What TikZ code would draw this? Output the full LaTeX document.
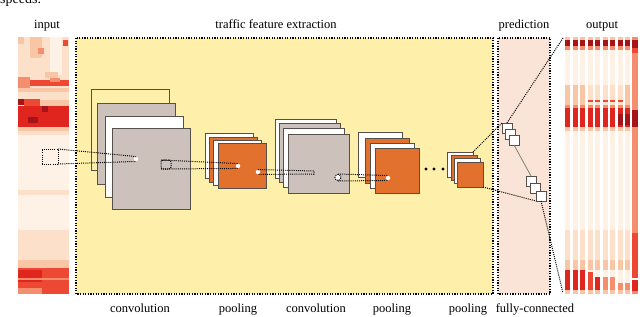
\documentclass[tikz,border=0pt]{standalone}
\usepackage{fontspec}
\setmainfont{Liberation Serif}
\usepackage{tikz}
\definecolor{featbg}{RGB}{254, 239, 170}
\definecolor{predbg}{RGB}{250, 228, 215}
\definecolor{mapgray}{RGB}{205, 193, 187}
\definecolor{maporange}{RGB}{226, 113, 45}
\definecolor{mapline}{RGB}{85, 80, 75}
\definecolor{hma}{RGB}{254, 242, 230}
\definecolor{hmb}{RGB}{252, 224, 202}
\definecolor{hmc}{RGB}{249, 198, 165}
\definecolor{hmd}{RGB}{244, 142, 110}
\definecolor{hme}{RGB}{236, 72, 52}
\definecolor{hmf}{RGB}{224, 36, 30}
\definecolor{hmg}{RGB}{165, 20, 25}

\begin{document}
\begin{tikzpicture}[x=1pt, y=-1pt,
    fmap/.style={draw=mapline, line width=0.8pt, anchor=north west, inner sep=0pt, outer sep=0pt},
    fcbox/.style={fmap, fill=white, minimum size=10pt},
    dotline/.style={line width=1pt, dash pattern=on 1pt off 1.1pt},
    boxline/.style={line width=1.2pt, dash pattern=on 1.2pt off 1.4pt},
    hotdot/.style={circle, fill=white, inner sep=0pt, minimum size=4.5pt},
    lbl/.style={font=\fontsize{12.5}{14}\selectfont, anchor=base, inner sep=0pt}]
    \useasboundingbox (0,0) rectangle (640,316);
    \clip (0,0) rectangle (640,316);
    \node[anchor=base west, inner sep=0pt, font=\fontsize{14}{16}\selectfont] (spd) at (0,3) {speeds.};
    % section labels
    \node[lbl] (inlbl) at (47,28) {input};
    \node[lbl] (featlbl) at (276,28) {traffic feature extraction};
    \node[lbl] (predlbl) at (524,28) {prediction};
    \node[lbl] (outlbl) at (602,28) {output};
    \node[lbl] (convlbla) at (140,312) {convolution};
    \node[lbl] (poollbla) at (238,312) {pooling};
    \node[lbl] (convlblb) at (316,312) {convolution};
    \node[lbl] (poollblb) at (392,312) {pooling};
    \node[lbl] (poollblc) at (468,312) {pooling};
    \node[lbl] (fclbl) at (535,312) {fully-connected};
    % backgrounds
    \draw[boxline, fill=featbg] (76,38) rectangle (493,294);
    \draw[boxline, fill=predbg] (498,38) rectangle (550,294);
    % input speeds
    \foreach \c/\xa/\ya/\xb/\yb in {hmb/18/37/69/294, hma/50/37/62/75, hmc/30/37/42/58, hmc/18/37/24/44,
        hmd/38/48/44/54, hme/63/40/68/46, hmc/45/72/58/78, hmd/18/77/30/88, hme/30/80/69/86, hmd/50/78/60/82,
        hmc/18/88/69/92, hmg/18/99/24/105, hme/24/99/40/106, hmc/40/100/69/106, hmf/18/106/69/127,
        hmg/42/106/48/112, hmg/28/117/38/123, hmc/18/127/69/131, hma/18/135/69/230, hmb/18/190/69/195,
        hmc/18/260/69/268, hme/18/268/69/288, hmf/18/270/42/282, hmd/18/278/69/279.5, hmd/18/288/42/294,
        hme/42/288/69/294}
        \fill[\c] (\xa,\ya) rectangle (\xb,\yb);
    % output speeds
    \foreach \i in {0,...,8} {
        \pgfmathsetmacro\xa{565+7.5*\i}
        \pgfmathsetmacro\xb{\xa+5}
        \fill[hma] (\xa,37) rectangle (\xb,294);
        \fill[hmc] (\xa,37) rectangle (\xb,40);
        \fill[hmg] (\xa,40) rectangle (\xb,46);
        \fill[hmd] (\xa,46) rectangle (\xb,50);
        \fill[hmb] (\xa,85) rectangle (\xb,106);
        \fill[hmd] (\xa,105) rectangle (\xb,108);
        \fill[hmf] (\xa,108) rectangle (\xb,127);
        \fill[hmc] (\xa,127) rectangle (\xb,131);
        \fill[hmb] (\xa,230) rectangle (\xb,260);
        \fill[hmc] (\xa,260) rectangle (\xb,270);
        \fill[hmc] (\xa,290) rectangle (\xb,294);
    }
    \foreach \i in {0,1,2,8} {
        \pgfmathsetmacro\xa{565+7.5*\i}
        \fill[hmc] (\xa,85) rectangle (\xa+5,105);
    }
    \foreach \i in {3,...,7} {
        \pgfmathsetmacro\xa{565+7.5*\i}
        \fill[hme] (\xa,99.5) rectangle (\xa+5,101.5);
    }
    \foreach \i in {7,8} {
        \pgfmathsetmacro\xa{565+7.5*\i}
        \fill[hmg] (\xa,114) rectangle (\xa+5,125);
    }
    \foreach \i/\yc/\c in {0/270/hmf, 1/270/hmf, 2/270/hmf, 3/272/hme, 4/277/hmf, 5/277/hmd, 6/277/hmd, 7/283/hmd, 8/283/hmd} {
        \pgfmathsetmacro\xa{565+7.5*\i}
        \fill[\c] (\xa,\yc) rectangle (\xa+5,290);
    }
    \fill[hmd] (632,37) rectangle (638,294);
    \fill[hmg] (632,40) rectangle (638,48);
    \fill[hme] (632,48) rectangle (638,53);
    \fill[hmg] (632,110) rectangle (638,127);
    \fill[hme] (632,233) rectangle (638,278);
    \fill[white] (632,278) rectangle (638,280);
    \fill[hmf] (632,280) rectangle (638,291);
    % feature maps
    \foreach \n/\x/\y/\c in {c1a/91/89/featbg, c1b/97/103/mapgray, c1c/105/116/white, c1d/112/128/mapgray}
        \node[fmap, fill=\c, minimum width=78pt, minimum height=81pt] (\n) at (\x,\y) {};
    \foreach \n/\x/\y/\c in {p1a/205/133/white, p1b/209/137/maporange, p1c/213/140/white, p1d/218/143/maporange}
        \node[fmap, fill=\c, minimum width=48pt, minimum height=45pt] (\n) at (\x,\y) {};
    \foreach \n/\x/\y/\c in {c2a/275/119/white, c2b/279/123/mapgray, c2c/283/128/white, c2d/288/134/mapgray}
        \node[fmap, fill=\c, minimum width=61pt, minimum height=59pt] (\n) at (\x,\y) {};
    \foreach \n/\x/\y/\c in {p2a/358/132/white, p2b/365/138/maporange, p2c/370/143/white, p2d/375/148/maporange}
        \node[fmap, fill=\c, minimum width=44pt, minimum height=45pt] (\n) at (\x,\y) {};
    \foreach \n/\x/\y/\c in {p3a/447/152/white, p3b/451/155/maporange, p3c/454/158/white, p3d/457/162/maporange}
        \node[fmap, fill=\c, minimum width=26pt, minimum height=25pt] (\n) at (\x,\y) {};
    \foreach \x in {426,434,443}
        \fill (\x,169) circle (1.6);
    % fully-connected units
    \foreach \n/\x/\y in {f1a/502/123, f1b/505/129, f1c/509/135, f2a/526/176, f2b/530/183, f2c/536/191}
        \node[fcbox] (\n) at (\x,\y) {};
    \draw[gray, line width=0.8pt] (f1c.south) -- (f2a.north);
    \coordinate (outtop) at (563,38);
    \coordinate (outbot) at (563,293);
    \draw[dotline] (p3a.north east) -- (f1a.north west);
    \draw[dotline] (f1a.north) -- (outtop);
    \draw[dotline] (p3d.south east) -- (f2c.south west);
    \draw[dotline] (f2c.south) -- (outbot);
    % receptive fields
    \node[fmap, draw=black, dotline, minimum width=16pt, minimum height=15pt] (r0) at (42,149) {};
    \node[hotdot] (d1) at (136,159) {};
    \draw[dotline] (r0.north east) -- (d1.north) (r0.south east) -- (d1.south);
    \node[fmap, draw=black, dotline, rounded corners=2pt, minimum width=10pt, minimum height=9pt] (r1) at (161,160) {};
    \node[hotdot] (d2) at (238,166) {};
    \draw[dotline] (r1.north west) -- (d2.north) (r1.south west) -- (d2.south);
    \node[hotdot] (d3) at (258,172) {};
    \coordinate (e3a) at (314,171);
    \coordinate (e3b) at (314,174);
    \draw[dotline] (d3.north) -- (e3a) -- (e3b) -- (d3.south);
    \node[hotdot, draw=black, dotline, minimum size=6pt] (d4) at (338,177.5) {};
    \node[hotdot] (d5) at (388,178) {};
    \draw[dotline] (d4.north) -- (d5.north) (d4.south) -- (d5.south);
\end{tikzpicture}
\end{document}
